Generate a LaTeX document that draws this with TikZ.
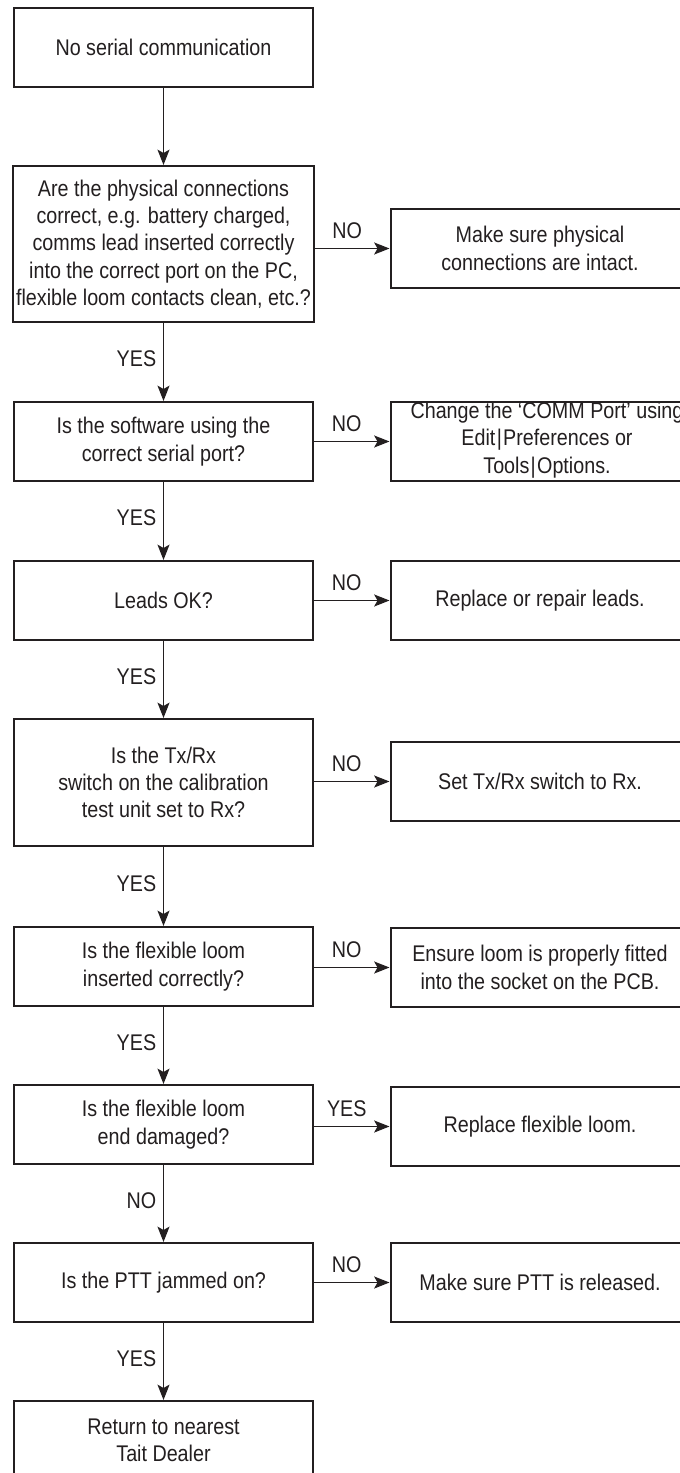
\documentclass[tikz,border=0pt]{standalone}
\usepackage{fontspec}
\setmainfont[FakeStretch=0.87]{Liberation Sans}
\usetikzlibrary{arrows.meta}
\definecolor{ink}{RGB}{35,31,32}
\begin{document}
\begin{tikzpicture}[x=0.75pt,y=-0.75pt,
  every node/.style={text=ink,font=\fontsize{17}{20.5}\selectfont},
  box/.style={draw=ink,line width=1.5pt,minimum width=224.25pt,minimum height=59.25pt,align=center,inner sep=2pt},
  arr/.style={draw=ink,line width=1.2pt,-{Stealth[length=11.5pt,width=9pt,inset=2.5pt]}},
  vlab/.style={anchor=east,inner sep=0pt,xshift=-4.9pt,yshift=2.25pt},
  hlab/.style={anchor=south,inner sep=0pt,xshift=-3.75pt,yshift=6.4pt}]
\useasboundingbox (0,0) rectangle (680,1473);
\clip (0,0) rectangle (680,1473);
\fill[white] (0,0) rectangle (680,1473);

\node[box] (n1) at (163.5,47.5) {No serial communication};
\node[box,minimum height=117pt] (n2) at (163.5,244) {Are the physical connections\\correct, e.g. battery charged,\\comms lead inserted correctly\\into the correct port on the PC,\\flexible loom contacts clean, etc.?};
\node[box] (r2) at (540,248.5) {Make sure physical\\connections are intact.};
\node[box] (n3) at (163.5,441.5) {Is the software using the\\correct serial port?};
\node[box] (r3) at (540,441.5) {};
\node[align=center] (r3t) at (547,440) {Change the ‘COMM Port’ using\\Edit\kern1pt|\kern1pt Preferences or\\Tools\kern1pt|\kern1pt Options.};
\node[box] (n4) at (163.5,600.5) {Leads OK?};
\node[box] (r4) at (540,600.5) {Replace or repair leads.};
\node[box,minimum height=95.25pt] (n5) at (163.5,782.5) {Is the Tx/Rx\\switch on the calibration\\test unit set to Rx?};
\node[box] (r5) at (540,781.5) {Set Tx/Rx switch to Rx.};
\node[box] (n6) at (163.5,966.5) {Is the flexible loom\\inserted correctly?};
\node[box] (r6) at (540,967.5) {Ensure loom is properly fitted\\into the socket on the PCB.};
\node[box] (n7) at (163.5,1124.5) {Is the flexible loom\\end damaged?};
\node[box] (r7) at (540,1126.5) {Replace flexible loom.};
\node[box] (n8) at (163.5,1282.5) {Is the PTT jammed on?};
\node[box] (r8) at (540,1282.5) {Make sure PTT is released.};
\node[box] (n9) at (163.5,1440.5) {Return to nearest\\Tait Dealer};

\draw[arr] (n1) -- (n2);
\draw[arr] (n2) -- node[vlab]{YES} (n3);
\draw[arr] (n3) -- node[vlab]{YES} (n4);
\draw[arr] (n4) -- node[vlab]{YES} (n5);
\draw[arr] (n5) -- node[vlab]{YES} (n6);
\draw[arr] (n6) -- node[vlab]{YES} (n7);
\draw[arr] (n7) -- node[vlab]{NO} (n8);
\draw[arr] (n8) -- node[vlab]{YES} (n9);

\draw[arr] (r2.west -| n2.east) -- node[hlab]{NO} (r2.west);
\draw[arr] (r3.west -| n3.east) -- node[hlab]{NO} (r3.west);
\draw[arr] (r4.west -| n4.east) -- node[hlab]{NO} (r4.west);
\draw[arr] (r5.west -| n5.east) -- node[hlab]{NO} (r5.west);
\draw[arr] (r6.west -| n6.east) -- node[hlab]{NO} (r6.west);
\draw[arr] (r7.west -| n7.east) -- node[hlab]{YES} (r7.west);
\draw[arr] (r8.west -| n8.east) -- node[hlab]{NO} (r8.west);
\end{tikzpicture}
\end{document}
